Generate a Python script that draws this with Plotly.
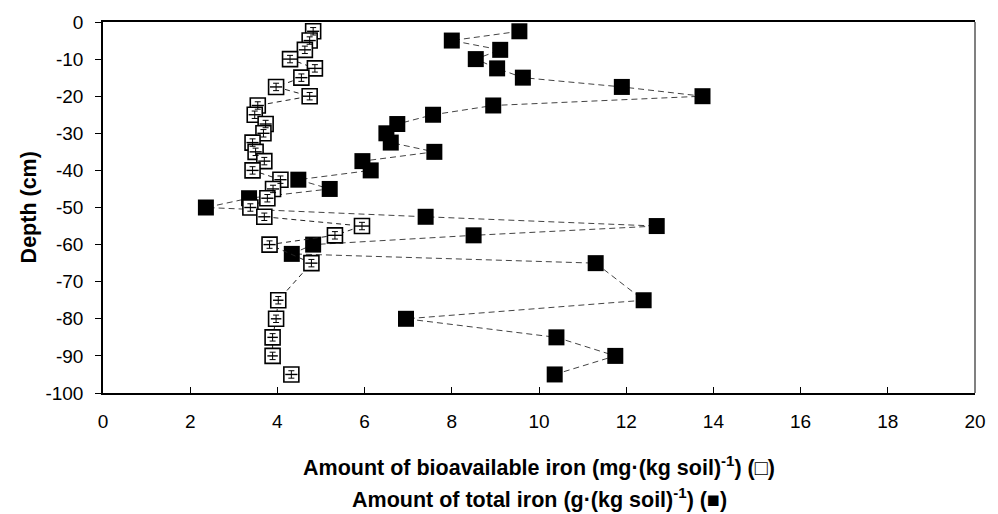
import plotly.graph_objects as go

# Depths (cm) and iron measurements
depth_bio = [-2.5, -5, -7.5, -10, -12.5, -15, -17.5, -20, -22.5, -25, -27.5, -30,
             -32.5, -35, -37.5, -40, -42.5, -45, -47.5, -50, -52.5, -55, -57.5, -60,
             -65, -75, -80, -85, -90, -95]
bio_iron = [4.82, 4.74, 4.63, 4.29, 4.86, 4.55, 3.97, 4.74, 3.55, 3.48, 3.73, 3.68,
            3.43, 3.50, 3.70, 3.43, 4.07, 3.90, 3.77, 3.38, 3.70, 5.94, 5.32, 3.82,
            4.78, 4.02, 3.97, 3.89, 3.89, 4.32]
bio_err = [0.14, 0.14, 0.14, 0.16, 0.16, 0.14, 0.14, 0.16, 0.14, 0.14, 0.14, 0.14,
           0.14, 0.14, 0.14, 0.14, 0.14, 0.14, 0.14, 0.14, 0.14, 0.16, 0.16, 0.14,
           0.14, 0.12, 0.12, 0.12, 0.12, 0.14]
depth_err = [1.0] * len(depth_bio)

depth_total = [-2.5, -5, -7.5, -10, -12.5, -15, -17.5, -20, -22.5, -25, -27.5, -30,
               -32.5, -35, -37.5, -40, -42.5, -45, -47.5, -50, -52.5, -55, -57.5, -60,
               -62.5, -65, -75, -80, -85, -90, -95]
total_iron = [9.55, 8.00, 9.11, 8.55, 9.04, 9.63, 11.90, 13.75, 8.95, 7.57, 6.75, 6.50,
              6.60, 7.60, 5.95, 6.14, 4.48, 5.20, 3.35, 2.36, 7.40, 12.70, 8.50, 4.82,
              4.33, 11.30, 12.40, 6.95, 10.40, 11.75, 10.36]

x_ticks = list(range(0, 21, 2))
y_ticks = list(range(0, -101, -10))

FONT = "Liberation Sans, Arial, sans-serif"
tick_font = dict(family=FONT, size=19, color="black")
title_font = dict(family=FONT, size=21.5, color="black")

fig = go.Figure()

# Total iron: filled squares joined by a dashed line
fig.add_trace(go.Scatter(
    x=total_iron, y=depth_total, mode="lines+markers",
    line=dict(color="#444444", width=1, dash="6px,4px"),
    marker=dict(symbol="square", size=16, color="black",
                line=dict(color="black", width=0)),
    showlegend=False, hoverinfo="skip",
))

# Bioavailable iron: open squares joined by a dashed line
fig.add_trace(go.Scatter(
    x=bio_iron, y=depth_bio, mode="lines+markers",
    line=dict(color="#222222", width=1, dash="5px,4px"),
    marker=dict(symbol="square", size=15, color="white",
                line=dict(color="black", width=1.6)),
    showlegend=False, hoverinfo="skip",
))

# Error bars of the bioavailable series, drawn above the open squares
fig.add_trace(go.Scatter(
    x=bio_iron, y=depth_bio, mode="markers",
    marker=dict(size=1, color="rgba(0,0,0,0)"),
    error_x=dict(type="data", array=bio_err, color="black",
                 thickness=1.4, width=0),
    error_y=dict(type="data", array=depth_err, color="black",
                 thickness=1, width=3),
    showlegend=False, hoverinfo="skip",
))

fig.update_layout(
    width=998, height=514,
    margin=dict(l=103, r=13, t=17, b=121),
    paper_bgcolor="white", plot_bgcolor="white",
    font=tick_font,
    xaxis=dict(
        range=[0, 20], tickvals=x_ticks, ticktext=[str(v) for v in x_ticks],
        showgrid=False, zeroline=False,
        showline=True, linecolor="black", linewidth=1.5, mirror=True,
        ticks="inside", ticklen=6, tickcolor="black", tickwidth=1,
        tickfont=tick_font, ticklabelstandoff=10,
    ),
    yaxis=dict(
        range=[-100, 0], tickvals=y_ticks, ticktext=[str(v) for v in y_ticks],
        showgrid=False, zeroline=False,
        showline=True, linecolor="black", linewidth=1.5,
        ticks="outside", ticklen=6, tickcolor="black", tickwidth=1,
        tickfont=tick_font, ticklabelstandoff=8,
    ),
    shapes=[dict(type="line", xref="paper", yref="paper", x0=1, x1=1, y0=0, y1=1,
                 line=dict(color="#808080", width=2), layer="below")],
    annotations=[
        dict(text="<b>Amount of bioavailable iron (mg·(kg soil)<sup>-1</sup>) (\u25a1)</b>",
             xref="paper", yref="paper", x=0.5, y=-0.196, xanchor="center",
             yanchor="middle", showarrow=False, font=title_font),
        dict(text="<b>Amount of total iron (g·(kg soil)<sup>-1</sup>) (\u25a0)</b>",
             xref="paper", yref="paper", x=0.5, y=-0.283, xanchor="center",
             yanchor="middle", showarrow=False, font=title_font),
        dict(text="<b>Depth (cm)</b>", textangle=-90,
             xref="paper", yref="paper", x=-0.085, y=0.5, xanchor="center",
             yanchor="middle", showarrow=False, font=title_font),
    ],
)

fig.write_html("out.html")
